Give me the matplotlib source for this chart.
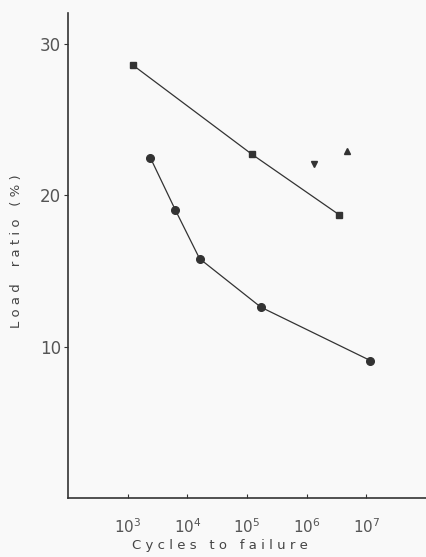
import matplotlib
matplotlib.use("Agg")
import matplotlib.pyplot as plt

# squares
sq_cycles = [1.2e3, 1.2e5, 3.5e6]
sq_load = [28.6, 22.7, 18.7]

# circles
ci_cycles = [2.4e3, 6.3e3, 1.6e4, 1.7e5, 1.17e7]
ci_load = [22.45, 19.0, 15.8, 12.6, 9.07]

# single points
tri_down = (1.3e6, 22.05)
tri_up = (4.7e6, 22.9)

x_ticks = [1e3, 1e4, 1e5, 1e6, 1e7]
x_labels = ['$10^3$', '$10^4$', '$10^5$', '$10^6$', '$10^7$']
y_ticks = [10, 20, 30]

ink = '#333333'
bg = '#f9f9f9'
fig = plt.figure(figsize=(4.26, 5.57), dpi=100, facecolor=bg)
ax = fig.add_axes([0.16, 0.106, 0.84, 0.87])
ax.set_facecolor(bg)

ax.plot(sq_cycles, sq_load, color=ink, lw=0.9, marker='s', ms=5)
ax.plot(ci_cycles, ci_load, color=ink, lw=0.9, marker='o', ms=5.5)
ax.plot(*tri_down, marker='v', color=ink, ms=5, ls='none')
ax.plot(*tri_up, marker='^', color=ink, ms=5, ls='none')

ax.set_xscale('log')
ax.set_xlim(1e2, 1e8)
ax.set_ylim(0, 32)
ax.set_xticks(x_ticks)
ax.set_xticklabels(x_labels)
ax.minorticks_off()
ax.set_yticks(y_ticks)

for s in ['top', 'right']:
    ax.spines[s].set_visible(False)
for s in ['left', 'bottom']:
    ax.spines[s].set_color(ink)
    ax.spines[s].set_linewidth(1.2)

ax.tick_params(axis='x', direction='in', length=3, colors=ink, labelsize=11, pad=14)
ax.tick_params(axis='y', direction='out', length=3, colors=ink, labelsize=12, pad=2)
for t in ax.get_xticklabels() + ax.get_yticklabels():
    t.set_color('#555555')

ax.set_xlabel('C y c l e s   t o   f a i l u r e', fontsize=9.5, color='#444444')
ax.set_ylabel('L o a d    r a t i o   ( % )', fontsize=9.5, color='#444444')
ax.xaxis.set_label_coords(0.425, -0.085)
ax.yaxis.set_label_coords(-0.125, 0.51)

fig.savefig('out.png', dpi=100, facecolor=fig.get_facecolor())
